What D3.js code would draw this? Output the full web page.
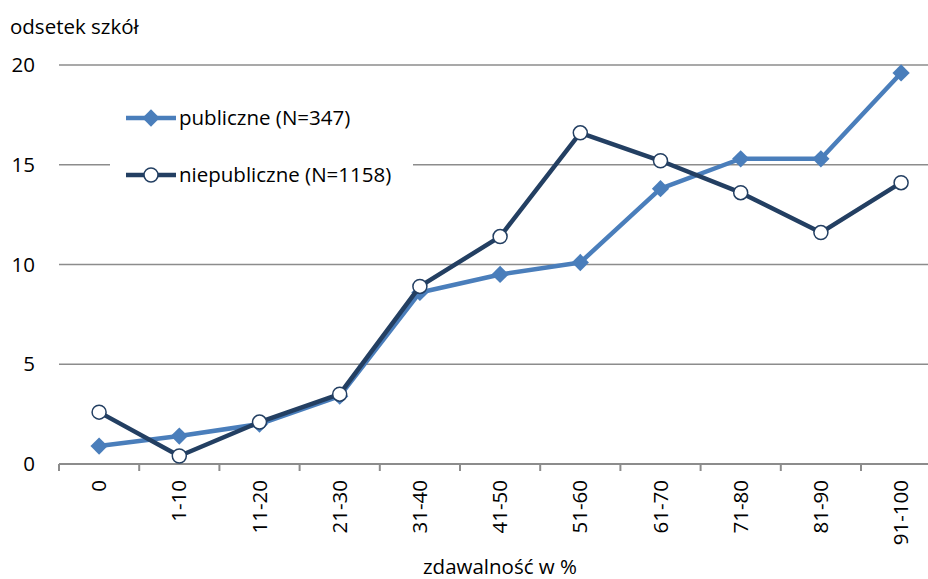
<!DOCTYPE html>
<html>
<head>
<meta charset="utf-8">
<script src="https://cdn.jsdelivr.net/npm/d3@7"></script>
<style>
  body { margin: 0; background: #fff; }
  svg { display: block; font-family: "Open Sans", "Noto Sans", sans-serif; }
</style>
</head>
<body>
<div class="visHolder"></div>
<script>
const categories = ["0", "1-10", "11-20", "21-30", "31-40", "41-50", "51-60", "61-70", "71-80", "81-90", "91-100"];
const publiczne = [0.9, 1.4, 2.0, 3.4, 8.6, 9.5, 10.1, 13.8, 15.3, 15.3, 19.6];
const niepubliczne = [2.6, 0.4, 2.1, 3.5, 8.9, 11.4, 16.6, 15.2, 13.6, 11.6, 14.1];
const yTicks = [0, 5, 10, 15, 20];
const seriesNames = ["publiczne (N=347)", "niepubliczne (N=1158)"];

const width = 928;
const height = 579;
const fontSize = "20.5px";

// band scale, the last band runs past the right edge like in the original
const xScale = d3.scaleBand()
    .domain(categories)
    .range([59, 59 + 11 * 80.2]);

const yScale = d3.scaleLinear()
    .domain([0, 20])
    .range([464, 65]);

const svg = d3.select(".visHolder")
    .append("svg")
    .attr("width", width)
    .attr("height", height);

// gridlines
svg.append("g")
    .selectAll("line")
    .data(yTicks.filter(d => d > 0))
    .enter()
    .append("line")
    .attr("x1", 59)
    .attr("x2", width)
    .attr("y1", d => yScale(d))
    .attr("y2", d => yScale(d))
    .attr("stroke", "#8c8c8c")
    .attr("stroke-width", 1.5);

// y tick labels
svg.append("g")
    .selectAll("text")
    .data(yTicks)
    .enter()
    .append("text")
    .attr("x", 35)
    .attr("y", d => yScale(d))
    .attr("dy", "0.35em")
    .attr("text-anchor", "end")
    .style("font-size", fontSize)
    .text(d => d);

// x axis with ticks on band edges
const xAxis = svg.append("g")
    .attr("transform", `translate(0, ${yScale(0)})`);
xAxis.append("line")
    .attr("x1", 59)
    .attr("x2", width)
    .attr("stroke", "#8c8c8c")
    .attr("stroke-width", 2);
xAxis.selectAll(".tick")
    .data(categories)
    .enter()
    .append("line")
    .attr("x1", d => xScale(d))
    .attr("x2", d => xScale(d))
    .attr("y1", 0)
    .attr("y2", 7)
    .attr("stroke", "#8c8c8c")
    .attr("stroke-width", 2);
xAxis.selectAll("text")
    .data(categories)
    .enter()
    .append("text")
    .attr("transform", d => `translate(${xScale(d) + xScale.bandwidth() / 2}, 16) rotate(-90)`)
    .attr("dy", "0.35em")
    .attr("text-anchor", "end")
    .style("font-size", fontSize)
    .text(d => d);

// axis titles
svg.append("text")
    .attr("x", 10)
    .attr("y", 34)
    .style("font-size", fontSize)
    .text("odsetek szkół");

svg.append("text")
    .attr("x", 500)
    .attr("y", 574)
    .attr("text-anchor", "middle")
    .style("font-size", fontSize)
    .text("zdawalność w %");

// legend background covers the gridline
const legend = svg.append("g");
legend.append("rect")
    .attr("x", 110)
    .attr("y", 95)
    .attr("width", 303)
    .attr("height", 110)
    .attr("fill", "#fff");

const cx = d => xScale(d) + xScale.bandwidth() / 2;
const line = d3.line()
    .x((d, i) => cx(categories[i]))
    .y(d => yScale(d));

const pubColor = "#4a7ebb";
const niepubColor = "#233f62";
const diamond = d3.symbol().type(d3.symbolDiamond2).size(190);

// publiczne
svg.append("path")
    .datum(publiczne)
    .attr("d", line)
    .attr("fill", "none")
    .attr("stroke", pubColor)
    .attr("stroke-width", 4.5)
    .attr("stroke-linejoin", "round");
svg.append("g")
    .selectAll("path")
    .data(publiczne)
    .enter()
    .append("path")
    .attr("d", diamond)
    .attr("transform", (d, i) => `translate(${cx(categories[i])}, ${yScale(d)})`)
    .attr("fill", pubColor);

// niepubliczne
svg.append("path")
    .datum(niepubliczne)
    .attr("d", line)
    .attr("fill", "none")
    .attr("stroke", niepubColor)
    .attr("stroke-width", 4.5)
    .attr("stroke-linejoin", "round");
svg.append("g")
    .selectAll("circle")
    .data(niepubliczne)
    .enter()
    .append("circle")
    .attr("cx", (d, i) => cx(categories[i]))
    .attr("cy", d => yScale(d))
    .attr("r", 7)
    .attr("fill", "#fff")
    .attr("stroke", niepubColor)
    .attr("stroke-width", 1.5);

// legend entries
const legendY = [118, 175];
legend.append("line")
    .attr("x1", 126).attr("x2", 176)
    .attr("y1", legendY[0]).attr("y2", legendY[0])
    .attr("stroke", pubColor).attr("stroke-width", 4.5);
legend.append("path")
    .attr("d", diamond)
    .attr("transform", `translate(151, ${legendY[0]})`)
    .attr("fill", pubColor);
legend.append("line")
    .attr("x1", 126).attr("x2", 176)
    .attr("y1", legendY[1]).attr("y2", legendY[1])
    .attr("stroke", niepubColor).attr("stroke-width", 4.5);
legend.append("circle")
    .attr("cx", 151).attr("cy", legendY[1]).attr("r", 7)
    .attr("fill", "#fff")
    .attr("stroke", niepubColor).attr("stroke-width", 1.5);
legend.selectAll(".lbl")
    .data(seriesNames)
    .enter()
    .append("text")
    .attr("x", 179)
    .attr("y", (d, i) => legendY[i])
    .attr("dy", "0.35em")
    .style("font-size", fontSize)
    .text(d => d);
</script>
</body>
</html>
